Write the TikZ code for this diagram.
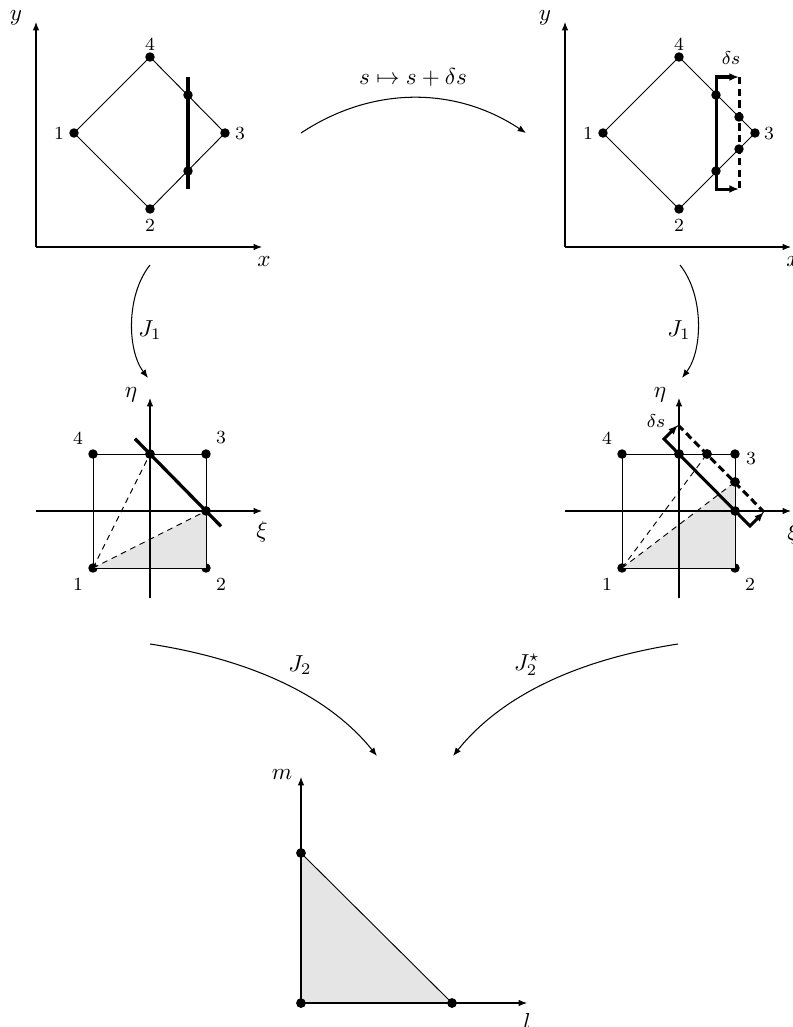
\documentclass[tikz,border=0pt]{standalone}
\usetikzlibrary{arrows.meta}
\begin{document}
\begin{tikzpicture}[x=0.0152cm,y=-0.0152cm,
  dot/.style={circle,fill=black,inner sep=0pt,minimum size=4.1pt},
  axis/.style={-{Latex[length=3.6pt,width=2.8pt]},line width=0.45pt},
  edge/.style={line width=0.4pt},
  cut/.style={line width=1.4pt},
  shiftarr/.style={line width=1.3pt,{Latex[length=4.2pt,width=3.4pt]}-{Latex[length=4.2pt,width=3.4pt]}},
  moved/.style={line width=1.3pt,dash pattern=on 3.2pt off 1.8pt},
  guide/.style={line width=0.4pt,dash pattern=on 2.5pt off 2pt},
  maparr/.style={-{Latex[length=3.6pt,width=2.8pt]},line width=0.45pt},
  num/.style={font=\footnotesize},
  area/.style={fill=gray!20}]
\useasboundingbox (0,0) rectangle (793,1027);

% ---------- top-left: physical element ----------
\coordinate (O1) at (36,247);
\coordinate (Y1) at (36,22);
\coordinate (X1) at (262,247);
\draw[axis] (O1) -- (Y1);
\draw[axis] (O1) -- (X1);
\node (ly1) at (16,18) {$y$};
\node (lx1) at (264,262) {$x$};
\node[dot] (a1) at (74,133) {};
\node[dot] (a2) at (150,209) {};
\node[dot] (a3) at (225,133) {};
\node[dot] (a4) at (150,57) {};
\draw[edge] (a1.center) -- (a2.center) -- (a3.center) -- (a4.center) -- cycle;
\coordinate (c1t) at (188,77);
\coordinate (c1b) at (188,189);
\draw[cut] (c1t) -- (c1b);
\node[dot] (p1) at (188,95) {};
\node[dot] (p2) at (188,171) {};
\node[num] (na1) at (59,133) {1};
\node[num] (na2) at (150,225) {2};
\node[num] (na3) at (240,134) {3};
\node[num] (na4) at (150,44) {4};

% ---------- top-right: shifted element ----------
\coordinate (O2) at (565,247);
\coordinate (Y2) at (565,22);
\coordinate (X2) at (791,247);
\draw[axis] (O2) -- (Y2);
\draw[axis] (O2) -- (X2);
\node (ly2) at (545,18) {$y$};
\node (lx2) at (793,262) {$x$};
\node[dot] (b1) at (603,133) {};
\node[dot] (b2) at (679,209) {};
\node[dot] (b3) at (755,133) {};
\node[dot] (b4) at (679,57) {};
\draw[edge] (b1.center) -- (b2.center) -- (b3.center) -- (b4.center) -- cycle;
\coordinate (s2a) at (739,77);
\coordinate (s2b) at (716,77);
\coordinate (s2c) at (716,189);
\coordinate (s2d) at (739,189);
\draw[moved] (s2a) -- (s2d);
\draw[shiftarr] (s2a) -- (s2b) -- (s2c) -- (s2d);
\node[dot] (p3) at (716,95) {};
\node[dot] (p4) at (716,171) {};
\node[dot] (p5) at (739,117) {};
\node[dot] (p6) at (739,149) {};
\node[num] (ds1) at (731,58) {$\delta s$};
\node[num] (nb1) at (588,133) {1};
\node[num] (nb2) at (679,225) {2};
\node[num] (nb3) at (769,134) {3};
\node[num] (nb4) at (679,44) {4};

% ---------- middle-left: parent square ----------
\node[dot] (c1) at (93,568) {};
\node[dot] (c2) at (206,568) {};
\node[dot] (c3) at (206,454) {};
\node[dot] (c4) at (93,454) {};
\node[dot] (q1) at (150,454) {};
\node[dot] (q2) at (206,511) {};
\fill[area] (c1.center) -- (q2.center) -- (c2.center) -- cycle;
\coordinate (O3) at (36,511);
\coordinate (X3) at (262,511);
\coordinate (B3) at (150,598);
\coordinate (Y3) at (150,398);
\draw[axis] (O3) -- (X3);
\draw[axis] (B3) -- (Y3);
\node (ly3) at (131,395) {$\eta$};
\node (lx3) at (262,532) {$\xi$};
\draw[edge] (c1.center) -- (c2.center) -- (c3.center) -- (c4.center) -- cycle;
\draw[guide] (c1.center) -- (q1.center);
\draw[guide] (c1.center) -- (q2.center);
\coordinate (t3a) at (135,438.7);
\coordinate (t3b) at (221,526.3);
\draw[cut] (t3a) -- (t3b);
\node[dot] at (q1) {};
\node[dot] at (q2) {};
\node[num] (nc1) at (78,584) {1};
\node[num] (nc2) at (221,584) {2};
\node[num] (nc3) at (221,438) {3};
\node[num] (nc4) at (78,438) {4};

% ---------- middle-right: parent square, shifted cut ----------
\node[dot] (d1) at (622,568) {};
\node[dot] (d2) at (735,568) {};
\node[dot] (d3) at (735,454) {};
\node[dot] (d4) at (622,454) {};
\node[dot] (r1) at (679,454) {};
\node[dot] (r2) at (735,511) {};
\node[dot] (r3) at (707,454) {};
\node[dot] (r4) at (735,482) {};
\fill[area] (d1.center) -- (r4.center) -- (d2.center) -- cycle;
\coordinate (O4) at (565,511);
\coordinate (X4) at (791,511);
\coordinate (B4) at (679,598);
\coordinate (Y4) at (679,398);
\draw[axis] (O4) -- (X4);
\draw[axis] (B4) -- (Y4);
\node (ly4) at (660,395) {$\eta$};
\node (lx4) at (793,534) {$\xi$};
\draw[edge] (d1.center) -- (d2.center) -- (d3.center) -- (d4.center) -- cycle;
\draw[guide] (d1.center) -- (r3.center);
\draw[guide] (d1.center) -- (r4.center);
\coordinate (u4a) at (678,425);
\coordinate (u4b) at (664,439);
\coordinate (u4c) at (750,526);
\coordinate (u4d) at (764,512);
\draw[moved] (u4a) -- (u4d);
\draw[shiftarr] (u4a) -- (u4b) -- (u4c) -- (u4d);
\node[dot] at (r1) {};
\node[dot] at (r2) {};
\node[dot] at (r3) {};
\node[dot] at (r4) {};
\node[num] (ds2) at (656,421) {$\delta s$};
\node[num] (nd1) at (607,584) {1};
\node[num] (nd2) at (750,584) {2};
\node[num] (nd3) at (751,459) {3};
\node[num] (nd4) at (607,438) {4};

% ---------- bottom: reference triangle ----------
\node[dot] (e1) at (301,1003) {};
\node[dot] (e2) at (452,1003) {};
\node[dot] (e3) at (301,853) {};
\fill[area] (e1.center) -- (e2.center) -- (e3.center) -- cycle;
\coordinate (Y5) at (301,777);
\coordinate (X5) at (527,1003);
\draw[axis] (e1.center) -- (Y5);
\draw[axis] (e1.center) -- (X5);
\draw[edge] (e1.center) -- (e2.center) -- (e3.center) -- cycle;
\node[dot] at (e1) {};
\node[dot] at (e2) {};
\node[dot] at (e3) {};
\node (ly5) at (282,775) {$m$};
\node (lx5) at (527,1021) {$l$};

% ---------- mappings ----------
\coordinate (m1s) at (301,133);
\coordinate (m1e) at (526,133);
\draw[maparr] (m1s) .. controls (372,86) and (455,86) .. (m1e);
\node (lm1) at (413,77) {$s\mapsto s+\delta s$};

\coordinate (m2s) at (150,265);
\coordinate (m2e) at (148,378);
\draw[maparr] (m2s) .. controls (126,295) and (127,350) .. (m2e);
\node (lm2) at (150,330) {$J_1$};

\coordinate (m3s) at (680,265);
\coordinate (m3e) at (682,378);
\draw[maparr] (m3s) .. controls (704,295) and (703,350) .. (m3e);
\node (lm3) at (679,330) {$J_1$};

\coordinate (m4s) at (150,644);
\coordinate (m4e) at (377,756);
\draw[maparr] (m4s) .. controls (228,656) and (320,685) .. (m4e);
\node (lm4) at (300,665) {$J_2$};

\coordinate (m5s) at (678,644);
\coordinate (m5e) at (453,756);
\draw[maparr] (m5s) .. controls (600,656) and (510,685) .. (m5e);
\node (lm5) at (527,665) {$J_2^\star$};
\end{tikzpicture}
\end{document}
